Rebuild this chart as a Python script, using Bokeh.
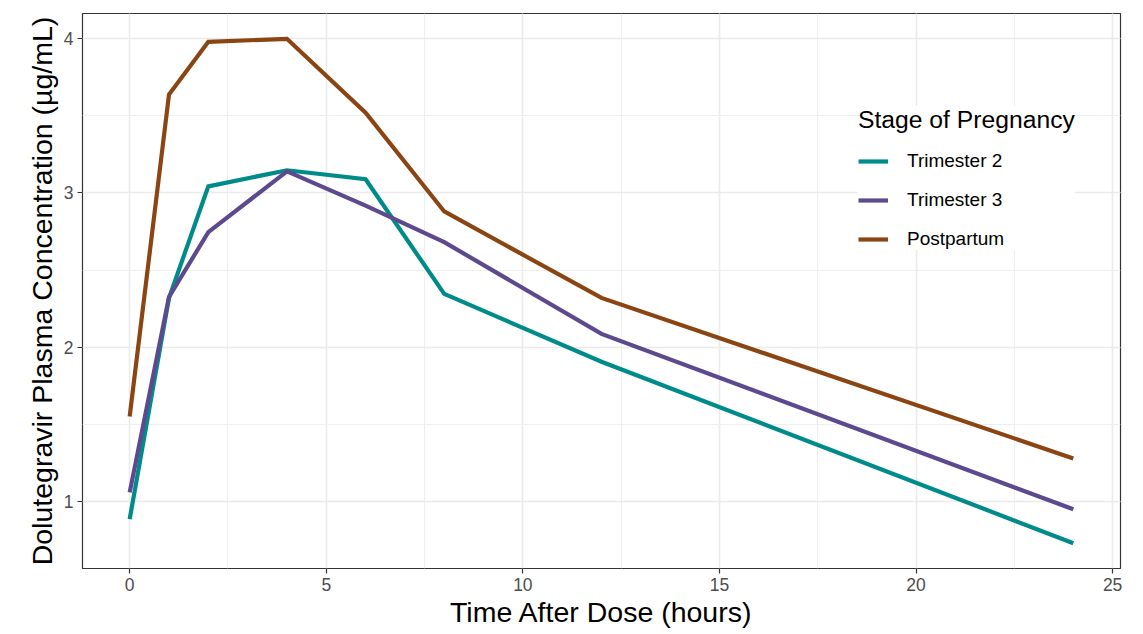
from bokeh.plotting import figure
from bokeh.models import SingleIntervalTicker, Range1d, Legend, LegendItem
from bokeh.embed import file_html
from bokeh.resources import INLINE

time_h = [0, 1, 2, 4, 6, 8, 12, 24]
trimester2 = [0.884, 2.319, 3.043, 3.147, 3.089, 2.345, 1.905, 0.728]
trimester3 = [1.058, 2.325, 2.746, 3.140, 2.918, 2.681, 2.086, 0.948]
postpartum = [1.550, 3.638, 3.980, 4.000, 3.520, 2.880, 2.319, 1.278]
series_names = ["Trimester 2", "Trimester 3", "Postpartum"]
colors = ["#008B8B", "#5D4A8E", "#8B4513"]

FONT = "Liberation Sans"

p = figure(width=1143, height=634, output_backend="svg", toolbar_location=None,
           x_range=Range1d(-1.2, 25.2), y_range=Range1d(0.564, 4.164),
           min_border_left=82, min_border_right=23, min_border_top=13, min_border_bottom=66)
p.background_fill_color = "white"
p.border_fill_color = "white"
p.outline_line_color = "#333333"
p.outline_line_width = 1.2

p.xaxis.ticker = SingleIntervalTicker(interval=5, num_minor_ticks=2)
p.yaxis.ticker = SingleIntervalTicker(interval=1, num_minor_ticks=2)
for ax in (p.xaxis[0], p.yaxis[0]):
    ax.axis_line_color = None
    ax.major_tick_line_color = "#333333"
    ax.major_tick_line_width = 1.2
    ax.major_tick_in = 0
    ax.major_tick_out = 5
    ax.minor_tick_line_color = None
    ax.major_label_text_font = FONT
    ax.major_label_text_font_size = "17.5px"
    ax.major_label_text_color = "#4D4D4D"
    ax.axis_label_text_font = FONT
    ax.axis_label_text_font_size = "28.5px"
    ax.axis_label_text_font_style = "normal"
    ax.axis_label_text_color = "black"
p.xaxis.axis_label = "Time After Dose (hours)"
p.yaxis.axis_label = "Dolutegravir Plasma Concentration (µg/mL)"
p.xaxis.major_label_standoff = 4
p.yaxis.major_label_standoff = 4
p.xaxis.axis_label_standoff = 2
p.yaxis.axis_label_standoff = 3

for g in (p.xgrid[0], p.ygrid[0]):
    g.grid_line_color = "#EBEBEB"
    g.grid_line_width = 1.6
    g.minor_grid_line_color = "#EFEFEF"
    g.minor_grid_line_width = 1.0

renderers = []
for vals, c in zip([trimester2, trimester3, postpartum], colors):
    r = p.line(time_h, vals, line_color=c, line_width=4.2, line_join="miter")
    renderers.append(r)

legend = Legend(items=[LegendItem(label=n, renderers=[r]) for n, r in zip(series_names, renderers)],
                location=(776, 318))
legend.title = "Stage of Pregnancy"
legend.title_text_font = FONT
legend.title_text_font_size = "24.7px"
legend.title_text_font_style = "normal"
legend.title_text_color = "black"
legend.title_standoff = 16
legend.label_text_font = FONT
legend.label_text_font_size = "19px"
legend.label_text_color = "black"
legend.glyph_width = 30
legend.glyph_height = 20
legend.label_height = 20
legend.label_standoff = 19
legend.spacing = 17
legend.padding = 14
legend.margin = 0
legend.border_line_color = None
legend.background_fill_color = "white"
legend.background_fill_alpha = 1.0
p.add_layout(legend, "center")

open("out.html", "w").write(file_html(p, INLINE))
